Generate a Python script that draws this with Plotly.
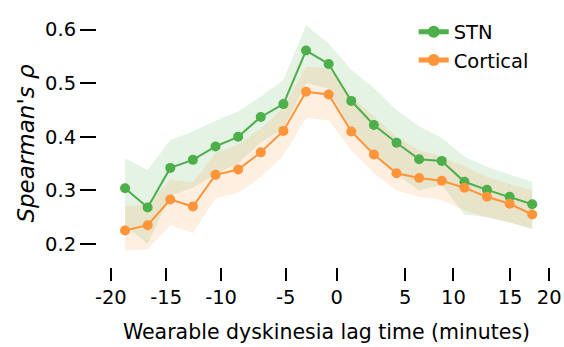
import plotly.graph_objects as go

lags = [-18, -16, -14, -12, -10, -8, -6, -4, -2, 0, 2, 4, 6, 8, 10, 12, 14, 16, 18]

stn_mean = [0.304, 0.268, 0.342, 0.357, 0.382, 0.400, 0.437, 0.461, 0.561, 0.536,
            0.467, 0.422, 0.389, 0.358, 0.355, 0.316, 0.301, 0.288, 0.274]
stn_upper = [0.360, 0.338, 0.394, 0.410, 0.430, 0.447, 0.475, 0.506, 0.608, 0.574,
             0.525, 0.491, 0.450, 0.419, 0.398, 0.363, 0.344, 0.329, 0.316]
stn_lower = [0.235, 0.200, 0.290, 0.305, 0.330, 0.350, 0.390, 0.415, 0.500, 0.490,
             0.410, 0.365, 0.330, 0.300, 0.310, 0.255, 0.250, 0.240, 0.228]

ctx_mean = [0.225, 0.235, 0.283, 0.270, 0.329, 0.339, 0.371, 0.411, 0.484, 0.479,
            0.410, 0.367, 0.332, 0.323, 0.318, 0.305, 0.288, 0.275, 0.255]
ctx_upper = [0.270, 0.275, 0.320, 0.315, 0.370, 0.385, 0.415, 0.455, 0.531, 0.528,
             0.475, 0.437, 0.400, 0.375, 0.363, 0.345, 0.325, 0.312, 0.300]
ctx_lower = [0.188, 0.190, 0.235, 0.220, 0.285, 0.295, 0.325, 0.365, 0.435, 0.431,
             0.375, 0.332, 0.300, 0.288, 0.282, 0.263, 0.250, 0.240, 0.228]

x_tick_pos = [-19.26, -14.37, -9.51, -3.79, 0.72, 6.76, 11.03, 16.04, 19.5]
x_tick_text = ["-20", "-15", "-10", "-5", "0", "5", "10", "15", "20"]
y_tick_vals = [0.2, 0.3, 0.4, 0.5, 0.6]
y_tick_text = ["0.2", "0.3", "0.4", "0.5", "0.6"]

GREEN = "#4daf4a"
ORANGE = "#ff9438"
GREEN_FILL = "rgba(77,175,74,0.15)"
ORANGE_FILL = "rgba(255,148,56,0.15)"
FONT = "DejaVu Sans"

fig = go.Figure()

series = [
    ("STN", stn_mean, stn_lower, stn_upper, GREEN, GREEN_FILL),
    ("Cortical", ctx_mean, ctx_lower, ctx_upper, ORANGE, ORANGE_FILL),
]

for name, mean, lower, upper, col, fillcol in series:
    fig.add_trace(go.Scatter(x=lags, y=lower, mode="lines", line=dict(width=0),
                             hoverinfo="skip", showlegend=False))
    fig.add_trace(go.Scatter(x=lags, y=upper, mode="lines", line=dict(width=0),
                             fill="tonexty", fillcolor=fillcol,
                             hoverinfo="skip", showlegend=False))

for name, mean, lower, upper, col, fillcol in series:
    fig.add_trace(go.Scatter(x=lags, y=mean, mode="lines+markers", name=name,
                             line=dict(color=col, width=2),
                             marker=dict(color=col, size=10),
                             legendgroup=name, showlegend=True))

fig.update_layout(
    width=564, height=347,
    margin=dict(l=97, r=8, t=20, b=80, autoexpand=False),
    paper_bgcolor="white", plot_bgcolor="white",
    font=dict(family=FONT, size=19.5, color="black"),
    legend=dict(x=0.69, y=1.03, xanchor="left", yanchor="top",
                bgcolor="rgba(0,0,0,0)", font=dict(size=19.5),
                traceorder="normal", tracegroupgap=4, itemsizing="constant"),
)

fig.update_xaxes(range=[-20.48, 20.1], showgrid=False, zeroline=False, showline=False,
                 tickmode="array", tickvals=x_tick_pos, ticktext=x_tick_text,
                 ticks="outside", ticklen=13, tickwidth=1.5, tickcolor="black",
                 ticklabeloverflow="allow", automargin=False,
                 title=dict(text="Wearable dyskinesia lag time (minutes)",
                            font=dict(size=20.5), standoff=16))
fig.update_yaxes(range=[0.157, 0.618], showgrid=False, zeroline=False, showline=False,
                 tickmode="array", tickvals=y_tick_vals, ticktext=y_tick_text,
                 ticks="outside", ticklen=16, tickwidth=1.5, tickcolor="black",
                 automargin=False,
                 title=dict(text="Spearman's ρ", font=dict(size=23, style="italic"),
                            standoff=4))

fig.write_html("out.html")
